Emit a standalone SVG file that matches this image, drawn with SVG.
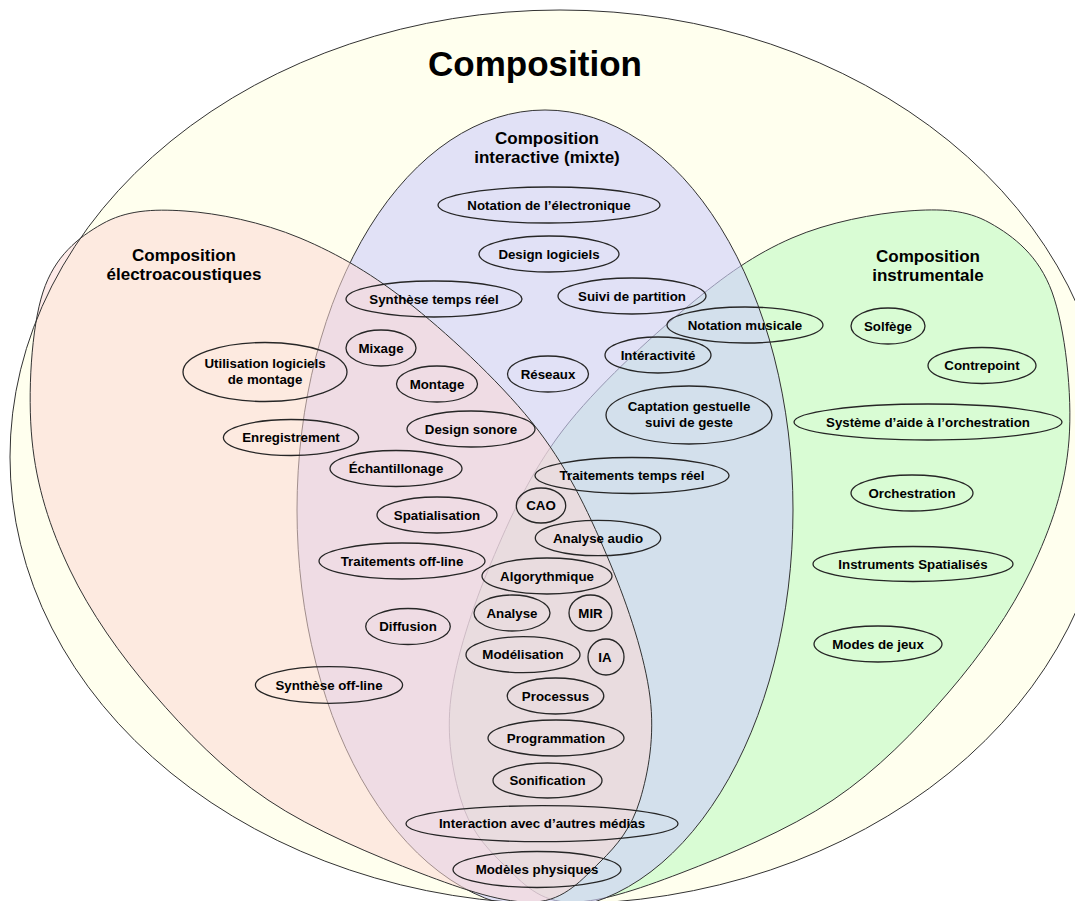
<svg xmlns="http://www.w3.org/2000/svg" width="1075" height="901" viewBox="0 0 1075 901">
<style>
.region{stroke:#333;stroke-width:1}
.node ellipse{fill:none;stroke:#262626;stroke-width:1.3}
text{font-family:"Liberation Sans",Arial,Helvetica,sans-serif;font-weight:bold;fill:#000;text-anchor:middle}
.node text{font-size:13.3px}
.reg{font-size:17px}
.title{font-size:35px}
</style>
<rect width="1075" height="901" fill="#ffffff"/>
<g id="regions">
  <ellipse id="composition" cx="560" cy="457" rx="550" ry="447" fill="#FFFFEE"/>
  <path id="instrumentale" class="region" fill="#D9FCD4" d="M908,211 C875,213.5 828.8,222 792,238 C755.2,254 725.2,275 687,307 C648.8,339 595.7,387.3 563,430 C530.3,472.7 509.7,518.5 491,563 C472.3,607.5 456,657.5 451,697 C446,736.5 452.7,772.5 461,800 C469.3,827.5 483.5,845 501,862 C518.5,879 536,900.2 566,902 C596,903.8 636.5,890 681,873 C725.5,856 788.5,830 833,800 C877.5,770 915,731.3 948,693 C981,654.7 1010.8,612.2 1031,570 C1051.2,527.8 1065.5,486.3 1069,440 C1072.5,393.7 1065.2,328.2 1052,292 C1038.8,255.8 1014,236.5 990,223 C966,209.5 941,208.5 908,211 Z"/>
  <ellipse id="interactive" class="region" cx="545" cy="510" rx="248" ry="400" fill="#CFCFFB" fill-opacity="0.63"/>
  <path id="electro" class="region" fill="#FBD9D5" fill-opacity="0.55" d="M185,211 C218,213.3 261.8,222 300,238 C338.2,254 374.3,275 414,307 C453.7,339 505.3,387.3 538,430 C570.7,472.7 591.3,518.5 610,563 C628.7,607.5 645,657.5 650,697 C655,736.5 648.3,772.5 640,800 C631.7,827.5 617.5,845 600,862 C582.5,879 565,900.2 535,902 C505,903.8 464.5,890 420,873 C375.5,856 312.5,830 268,800 C223.5,770 186,731.3 153,693 C120,654.7 90.2,612.2 70,570 C49.8,527.8 36.5,486.3 32,440 C27.5,393.7 31.3,328 43,292 C54.7,256 78.3,237.5 102,224 C125.7,210.5 152,208.7 185,211 Z"/>
  <ellipse id="composition-outline" class="region" cx="560" cy="457" rx="550" ry="447" fill="none"/>
</g>
<g id="region-labels">
  <text class="title" x="535" y="76">Composition</text>
  <text class="reg" x="547" y="144">Composition</text>
  <text class="reg" x="547" y="163">interactive (mixte)</text>
  <text class="reg" x="184" y="261">Composition</text>
  <text class="reg" x="184" y="280">électroacoustiques</text>
  <text class="reg" x="928" y="262">Composition</text>
  <text class="reg" x="928" y="281">instrumentale</text>
</g>
<g id="connectors"></g>
<g id="nodes">
  <g id="n1" class="node"><ellipse cx="549" cy="205" rx="111" ry="18"/><text x="549" y="209.7">Notation de l’électronique</text></g>
  <g id="n2" class="node"><ellipse cx="549" cy="254" rx="70" ry="18"/><text x="549" y="258.7">Design logiciels</text></g>
  <g id="n3" class="node"><ellipse cx="434" cy="299" rx="88" ry="18"/><text x="434" y="303.7">Synthèse temps réel</text></g>
  <g id="n4" class="node"><ellipse cx="632" cy="296" rx="74" ry="18"/><text x="632" y="300.7">Suivi de partition</text></g>
  <g id="n5" class="node"><ellipse cx="381" cy="348" rx="35" ry="18"/><text x="381" y="352.7">Mixage</text></g>
  <g id="n6" class="node"><ellipse cx="437" cy="384" rx="40.5" ry="18"/><text x="437" y="388.7">Montage</text></g>
  <g id="n7" class="node"><ellipse cx="548" cy="374" rx="40.5" ry="18"/><text x="548" y="378.7">Réseaux</text></g>
  <g id="n8" class="node"><ellipse cx="658" cy="355" rx="53" ry="18"/><text x="658" y="359.7">Intéractivité</text></g>
  <g id="n9" class="node"><ellipse cx="745" cy="325" rx="78" ry="18"/><text x="745" y="329.7">Notation musicale</text></g>
  <g id="n10" class="node"><ellipse cx="689" cy="415" rx="83" ry="29"/><text x="689" y="411">Captation gestuelle</text><text x="689" y="427">suivi de geste</text></g>
  <g id="n11" class="node"><ellipse cx="471" cy="429" rx="64" ry="18"/><text x="471" y="433.7">Design sonore</text></g>
  <g id="n12" class="node"><ellipse cx="265" cy="372" rx="82" ry="29.5"/><text x="265" y="368">Utilisation logiciels</text><text x="265" y="384">de montage</text></g>
  <g id="n13" class="node"><ellipse cx="291" cy="437.5" rx="67.6" ry="18"/><text x="291" y="442.2">Enregistrement</text></g>
  <g id="n14" class="node"><ellipse cx="396" cy="468.5" rx="66" ry="18"/><text x="396" y="473.2">Échantillonage</text></g>
  <g id="n15" class="node"><ellipse cx="437" cy="515" rx="60" ry="18"/><text x="437" y="519.7">Spatialisation</text></g>
  <g id="n16" class="node"><ellipse cx="402" cy="561" rx="83" ry="18"/><text x="402" y="565.7">Traitements off-line</text></g>
  <g id="n17" class="node"><ellipse cx="632" cy="475.5" rx="97" ry="18"/><text x="632" y="480.2">Traitements temps réel</text></g>
  <g id="n18" class="node"><ellipse cx="541" cy="505.5" rx="24.7" ry="17.5"/><text x="541" y="510.2">CAO</text></g>
  <g id="n19" class="node"><ellipse cx="598" cy="538" rx="62.7" ry="17.7"/><text x="598" y="542.7">Analyse audio</text></g>
  <g id="n20" class="node"><ellipse cx="547" cy="576" rx="65" ry="18"/><text x="547" y="580.7">Algorythmique</text></g>
  <g id="n21" class="node"><ellipse cx="512" cy="613" rx="38" ry="18"/><text x="512" y="617.7">Analyse</text></g>
  <g id="n22" class="node"><ellipse cx="590.5" cy="613" rx="21.5" ry="18"/><text x="590.5" y="617.7">MIR</text></g>
  <g id="n23" class="node"><ellipse cx="523" cy="654.7" rx="57" ry="18"/><text x="523" y="659.4">Modélisation</text></g>
  <g id="n24" class="node"><ellipse cx="606" cy="657" rx="18" ry="18"/><text x="605" y="661.7">IA</text></g>
  <g id="n25" class="node"><ellipse cx="555.5" cy="696" rx="48.3" ry="18"/><text x="555.5" y="700.7">Processus</text></g>
  <g id="n26" class="node"><ellipse cx="556" cy="738" rx="68" ry="18"/><text x="556" y="742.7">Programmation</text></g>
  <g id="n27" class="node"><ellipse cx="408" cy="626.5" rx="42.3" ry="18"/><text x="408" y="631.2">Diffusion</text></g>
  <g id="n28" class="node"><ellipse cx="329" cy="685" rx="73.6" ry="18.3"/><text x="329" y="689.7">Synthèse off-line</text></g>
  <g id="n29" class="node"><ellipse cx="547.5" cy="780.5" rx="54.5" ry="17.5"/><text x="547.5" y="785.2">Sonification</text></g>
  <g id="n30" class="node"><ellipse cx="542" cy="823.7" rx="136" ry="18"/><text x="542" y="828.4">Interaction avec d’autres médias</text></g>
  <g id="n31" class="node"><ellipse cx="537" cy="869.5" rx="84" ry="18"/><text x="537" y="874.2">Modèles physiques</text></g>
  <g id="n32" class="node"><ellipse cx="888" cy="326" rx="37" ry="18"/><text x="888" y="330.7">Solfège</text></g>
  <g id="n33" class="node"><ellipse cx="982" cy="365.5" rx="54" ry="18"/><text x="982" y="370.2">Contrepoint</text></g>
  <g id="n34" class="node"><ellipse cx="928" cy="422" rx="134" ry="18"/><text x="928" y="426.7">Système d’aide à l’orchestration</text></g>
  <g id="n35" class="node"><ellipse cx="912" cy="493" rx="61" ry="18"/><text x="912" y="497.7">Orchestration</text></g>
  <g id="n36" class="node"><ellipse cx="913" cy="564" rx="100" ry="17.5"/><text x="913" y="568.7">Instruments Spatialisés</text></g>
  <g id="n37" class="node"><ellipse cx="878" cy="644" rx="64" ry="18"/><text x="878" y="648.7">Modes de jeux</text></g>
</g>
</svg>
